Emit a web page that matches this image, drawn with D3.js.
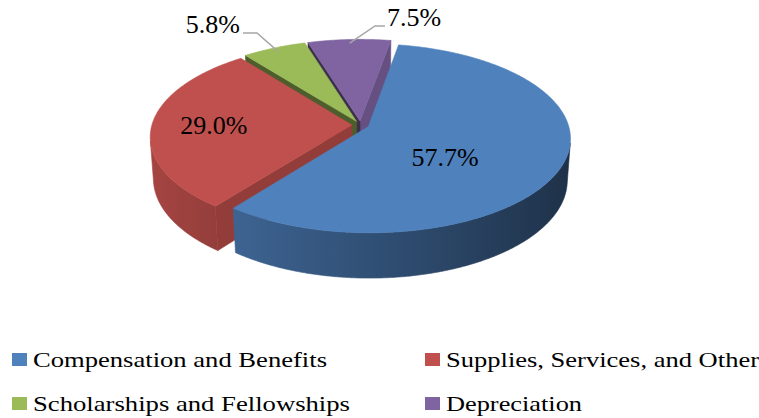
<!DOCTYPE html>
<html>
<head>
<meta charset="utf-8">
<script src="https://cdn.jsdelivr.net/npm/d3@7"></script>
<style>
  body { margin: 0; background: #fff; }
  svg { display: block; }
</style>
</head>
<body>
<div id="chart"></div>
<script>
// data
let categories = ["Compensation and Benefits", "Supplies, Services, and Other", "Scholarships and Fellowships", "Depreciation"];
let values = [57.7, 29.0, 5.8, 7.5];
let labels = ["57.7%", "29.0%", "5.8%", "7.5%"];
let colors = ["#4f81bd", "#c0504d", "#9bbb59", "#8064a2"];

let width = 759;
let height = 418;

// 3d view settings (radius units)
let cx = 360.5, cy = 125, S = 200;
let phi = 27.6 * Math.PI / 180;
let D = 7.2;
let depth = 0.237;
let explode = 0.043;
let startDeg = 10;

function project(X, Y, Z) {
    let d = Y * Math.sin(phi) + Z * Math.cos(phi);
    let k = D / (D - d);
    return [cx + S * X * k, cy + S * (Z * Math.sin(phi) - Y * Math.cos(phi)) * k];
}

let pie = d3.pie()
    .sort(null)
    .value(d => d.value)
    .startAngle(startDeg * Math.PI / 180)
    .endAngle(startDeg * Math.PI / 180 + 2 * Math.PI);

let data = categories.map((name, i) => ({name, value: values[i], label: labels[i], color: colors[i]}));
let arcs = pie(data).map(a => {
    let mid = (a.startAngle + a.endAngle) / 2;
    a.mid = mid;
    a.ox = explode * Math.sin(mid);
    a.oz = -explode * Math.cos(mid);
    return a;
});

function pt(a, theta, r, Y) {
    return project(a.ox + r * Math.sin(theta), Y, a.oz - r * Math.cos(theta));
}

function shade(color, f) {
    let c = d3.rgb(color);
    return d3.rgb(c.r * f, c.g * f, c.b * f).formatHex();
}

let line = d3.line();
let step = Math.PI / 360;

function arcPoints(a, t0, t1, Y) {
    let n = Math.max(2, Math.ceil(Math.abs(t1 - t0) / step));
    return d3.range(n + 1).map(i => pt(a, t0 + (t1 - t0) * i / n, 1, Y));
}

let svg = d3.select("#chart")
    .append("svg")
    .attr("width", width)
    .attr("height", height)
    .attr("viewBox", [0, 0, width, height]);

let defs = svg.append("defs");

let camZ = D * Math.cos(phi);

// radial side faces
let faces = [];
arcs.forEach((a, i) => {
    [["start", a.startAngle], ["end", a.endAngle]].forEach(([kind, ang]) => {
        let nx = kind == "start" ? -Math.cos(ang) : Math.cos(ang);
        let nz = kind == "start" ? -Math.sin(ang) : Math.sin(ang);
        let vis = (0 - a.ox) * nx + (camZ - a.oz) * nz;
        if (vis <= 0) return;
        let facing = kind == "start" ? ang - Math.PI / 2 : ang + Math.PI / 2;
        let pts = [pt(a, ang, 0, 0), pt(a, ang, 1, 0), pt(a, ang, 1, -depth), pt(a, ang, 0, -depth)];
        let dz = a.oz - 0.5 * Math.cos(ang);
        faces.push({pts, dz, fill: shade(a.data.color, 0.63 + 0.17 * Math.sin(facing))});
    });
});
faces.sort((p, q) => p.dz - q.dz);

svg.append("g")
    .selectAll("path")
    .data(faces)
    .join("path")
    .attr("d", d => line(d.pts) + "Z")
    .attr("fill", d => d.fill)
    .attr("stroke", d => d.fill)
    .attr("stroke-width", 0.6);

// outer curved sides
let sides = [];
arcs.forEach((a, i) => {
    let visible = t => -a.ox * Math.sin(t) - 1 - (camZ - a.oz) * Math.cos(t) > 0;
    let n = Math.ceil((a.endAngle - a.startAngle) / step);
    let run = null;
    for (let k = 0; k <= n; k++) {
        let t = a.startAngle + (a.endAngle - a.startAngle) * k / n;
        if (visible(t)) {
            if (!run) run = [t, t];
            run[1] = t;
        } else if (run) {
            sides.push({a, t0: run[0], t1: run[1], i});
            run = null;
        }
    }
    if (run) sides.push({a, t0: run[0], t1: run[1], i});
});

sides.forEach((s, j) => {
    let top = arcPoints(s.a, s.t0, s.t1, 0);
    let bottom = arcPoints(s.a, s.t1, s.t0, -depth);
    let xs = top.concat(bottom).map(p => p[0]);
    let x0 = d3.min(xs), x1 = d3.max(xs);
    let grad = defs.append("linearGradient")
        .attr("id", "side" + j)
        .attr("gradientUnits", "userSpaceOnUse")
        .attr("x1", x0).attr("x2", x1)
        .attr("y1", 0).attr("y2", 0);
    let samples = d3.range(13).map(k => s.t0 + (s.t1 - s.t0) * k / 12)
        .map(t => ({x: pt(s.a, t, 1, 0)[0], f: 0.62 - 0.25 * Math.sin(t)}))
        .sort((p, q) => p.x - q.x);
    samples.forEach(sm => {
        grad.append("stop")
            .attr("offset", x1 > x0 ? (sm.x - x0) / (x1 - x0) : 0)
            .attr("stop-color", shade(s.a.data.color, sm.f));
    });
    s.path = line(top.concat(bottom)) + "Z";
    s.fill = "url(#side" + j + ")";
});

svg.append("g")
    .selectAll("path")
    .data(sides)
    .join("path")
    .attr("d", d => d.path)
    .attr("fill", d => d.fill)
    .attr("stroke", d => d.fill)
    .attr("stroke-width", 0.6);

// top faces
svg.append("g")
    .selectAll("path")
    .data(arcs)
    .join("path")
    .attr("d", a => line([pt(a, 0, 0, 0)].concat(arcPoints(a, a.startAngle, a.endAngle, 0))) + "Z")
    .attr("fill", a => a.data.color)
    .attr("stroke", a => a.data.color)
    .attr("stroke-width", 0.6);

// data labels
let font = "'Liberation Serif', 'Times New Roman', serif";
let inside = [
    {i: 0, r: 0.6, dx: -37, dy: 16},
    {i: 1, r: 0.6, dx: -18, dy: 9}
];
svg.append("g")
    .selectAll("text")
    .data(inside)
    .join("text")
    .attr("x", d => pt(arcs[d.i], arcs[d.i].mid, d.r, 0)[0] + d.dx)
    .attr("y", d => pt(arcs[d.i], arcs[d.i].mid, d.r, 0)[1] + d.dy)
    .attr("text-anchor", "middle")
    .attr("font-family", font)
    .attr("font-size", 26)
    .attr("fill", "#000")
    .text(d => arcs[d.i].data.label);

let outside = [
    {i: 2, r: 0.95, elbow: [257, 33], end: [243, 33], anchor: "end", tx: 240},
    {i: 3, r: 0.95, elbow: [375, 26], end: [385, 26], anchor: "start", tx: 387}
];
let lead = svg.append("g");
lead.selectAll("path")
    .data(outside)
    .join("path")
    .attr("d", d => line([pt(arcs[d.i], arcs[d.i].mid, d.r, 0), d.elbow, d.end]))
    .attr("fill", "none")
    .attr("stroke", "#a6a6a6")
    .attr("stroke-width", 1.5);
lead.selectAll("text")
    .data(outside)
    .join("text")
    .attr("x", d => d.tx)
    .attr("y", d => d.end[1])
    .attr("text-anchor", d => d.anchor)
    .attr("font-family", font)
    .attr("font-size", 26)
    .attr("fill", "#000")
    .text(d => arcs[d.i].data.label);

// legend
let legendX = [12, 425];
let legendY = [353, 397];
let legendW = [294, 313, 317, 136];
let legend = svg.append("g")
    .selectAll("g")
    .data(data)
    .join("g")
    .attr("transform", (d, i) => `translate(${legendX[i % 2]},${legendY[Math.floor(i / 2)]})`);
legend.append("rect")
    .attr("width", 15)
    .attr("height", 13)
    .attr("fill", d => d.color);
legend.append("text")
    .attr("x", 21)
    .attr("y", 14)
    .attr("font-family", font)
    .attr("font-size", 21)
    .attr("textLength", (d, i) => legendW[i])
    .attr("lengthAdjust", "spacingAndGlyphs")
    .attr("fill", "#000")
    .text(d => d.name);
</script>
</body>
</html>
